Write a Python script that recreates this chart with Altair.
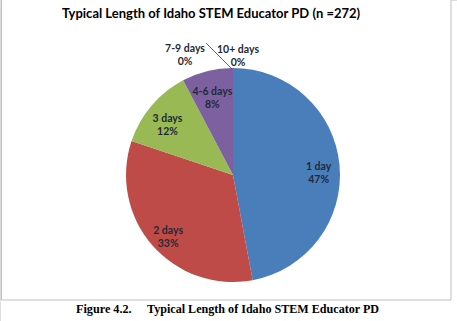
import altair as alt
import pandas as pd

categories = ["1 day", "2 days", "3 days", "4-6 days", "7-9 days", "10+ days"]
counts = [128, 90, 33, 21, 0, 0]
pct_labels = ["47%", "33%", "12%", "8%", "0%", "0%"]
colors = ["#4A7EBB", "#BE4B48", "#98B954", "#7D60A0", "#4BACC6", "#F79646"]

title_text = "Typical Length of Idaho STEM Educator PD (n =272)"
caption_num = "Figure 4.2."
caption_text = "Typical Length of Idaho STEM Educator PD"

df = pd.DataFrame({
    "cat": categories,
    "count": counts,
    "pct": pct_labels,
    "order": list(range(len(categories))),
})
df["label"] = df.apply(lambda r: [r["cat"], r["pct"]], axis=1)

CX, CY, R = 233, 175, 107
FONT = "Lato"

color_scale = alt.Scale(domain=categories, range=colors)

base = alt.Chart(df)

border = alt.Chart(pd.DataFrame({"a": [0]})).mark_rect(
    fill="white", stroke="#bfbfbf", strokeWidth=1
).encode(x=alt.value(1.5), x2=alt.value(451), y=alt.value(-2), y2=alt.value(300))

pie = base.mark_arc(outerRadius=R, stroke=None).encode(
    theta=alt.Theta("count:Q", stack=True),
    color=alt.Color("cat:N", scale=color_scale, legend=None),
    order=alt.Order("order:Q"),
    x=alt.value(CX), y=alt.value(CY),
)

inner = base.mark_text(
    radius=86, font=FONT, fontWeight="bold", fontSize=10.5, color="#1f2a36",
    lineHeight=13, baseline="middle",
).encode(
    theta=alt.Theta("count:Q", stack=True),
    order=alt.Order("order:Q"),
    text="label",
    x=alt.value(CX), y=alt.value(CY),
).transform_filter("datum.count > 0")

# zero-valued slices: labels sit outside the top of the pie
zero1 = base.mark_text(
    font=FONT, fontWeight="bold", fontSize=10.5, color="#1f2a36",
    lineHeight=13, baseline="middle", dx=-48,
).encode(text="label", x=alt.value(CX), y=alt.value(CY - 126)).transform_filter(
    "datum.cat == '7-9 days'")
zero2 = base.mark_text(
    font=FONT, fontWeight="bold", fontSize=10.5, color="#1f2a36",
    lineHeight=13, baseline="middle", dx=5,
).encode(text="label", x=alt.value(CX), y=alt.value(CY - 125)).transform_filter(
    "datum.cat == '10+ days'")

leader = alt.Chart(pd.DataFrame({"a": [0]})).mark_rule(
    color="#404040", strokeWidth=0.8
).encode(x=alt.value(206), x2=alt.value(CX - 1), y=alt.value(43), y2=alt.value(CY - R + 1))

title = alt.Chart(pd.DataFrame({"t": [title_text]})).mark_text(
    font=FONT, fontWeight="bold", fontSize=13, color="#000000", baseline="middle"
).encode(text="t", x=alt.value(211), y=alt.value(14))

cap1 = alt.Chart(pd.DataFrame({"t": [caption_num]})).mark_text(
    font="Liberation Serif", fontWeight="bold", fontSize=12.2, color="#000000",
    align="left", baseline="middle"
).encode(text="t", x=alt.value(76), y=alt.value(309))

cap2 = alt.Chart(pd.DataFrame({"t": [caption_text]})).mark_text(
    font="Liberation Serif", fontWeight="bold", fontSize=12.1, color="#000000",
    align="left", baseline="middle"
).encode(text="t", x=alt.value(147), y=alt.value(309))

chart = alt.layer(border, pie, inner, zero1, zero2, leader, title, cap1, cap2).properties(
    width=457, height=321,
    autosize=alt.AutoSizeParams(type="none"),
    padding=0,
).configure_view(stroke=None).configure(background="white")

chart.save("out.html", embed_options={"renderer": "svg", "actions": False})
